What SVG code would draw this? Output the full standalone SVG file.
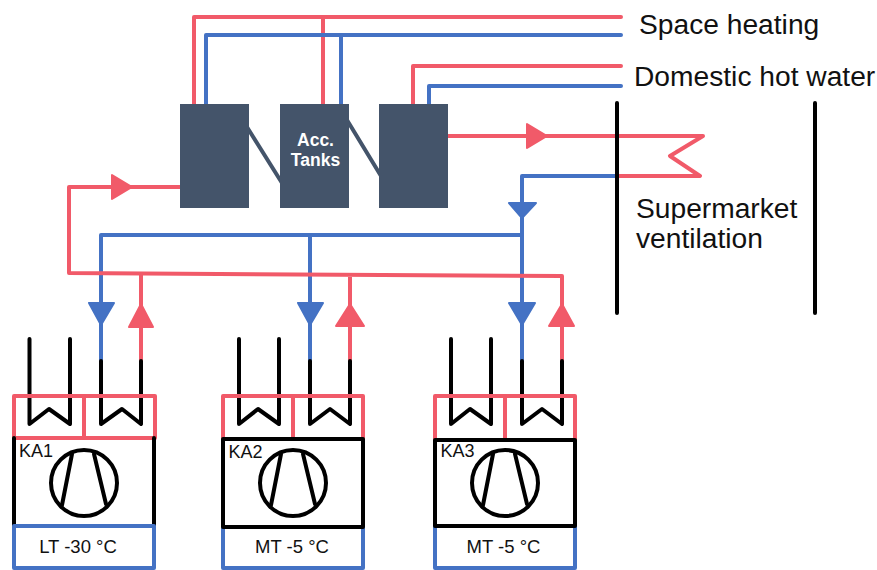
<svg xmlns="http://www.w3.org/2000/svg" width="877" height="570" viewBox="0 0 877 570">
<style>
text{font-family:"Liberation Sans",Arial,sans-serif;fill:#111}
.l{font-size:28.200px}
.s{font-size:18px}
.m{font-size:18.500px}
.r{fill:none;stroke:#f15a69;stroke-width:4;stroke-linejoin:round;stroke-linecap:round}
.b{fill:none;stroke:#4472c4;stroke-width:4;stroke-linejoin:round;stroke-linecap:round}
.k{fill:none;stroke:#000;stroke-width:4;stroke-linejoin:round;stroke-linecap:round}
.t{fill:#44546a}
.rf{fill:#f15a69;stroke:#f15a69;stroke-width:2;stroke-linejoin:round}
.bf{fill:#4472c4;stroke:#4472c4;stroke-width:2;stroke-linejoin:round}
</style>
<rect width="877" height="570" fill="#fff"/>
<g id="connectors">
<path class="r" d="M194 104V17H621M323 104V17"/>
<path class="b" d="M206 104V35H621M341 104V35"/>
<path class="r" d="M413 104V66H621"/>
<path class="b" d="M429 104V86H621"/>
<path class="r" d="M448 136H703L670 156L700 176H617"/>
<path class="b" d="M617 176H522V361M522 235H101V361M310 235V361"/>
<path class="r" d="M180 187H69V273L562 276V361M141 274V361M350 276V361"/>
<path d="M247 127L282 183M347 120L381 176" fill="none" stroke="#44546a" stroke-width="4"/>
<path class="k" d="M617 103V313M815 103V313"/>
<path class="rf" d="M527 124V148L547 136Z"/>
<path class="rf" d="M112 175V199L132 187Z"/>
<path class="bf" d="M509 203H536L522 218Z"/>
<path class="bf" d="M89 303H114L101 325Z"/>
<path class="bf" d="M298 303H323L310 325Z"/>
<path class="bf" d="M509 303H535L522 325Z"/>
<path class="rf" d="M129 327H153L141 304Z"/>
<path class="rf" d="M336 326H364L350 304Z"/>
<path class="rf" d="M549 326H574L562 304Z"/>
</g>
<g id="tank1"><rect class="t" x="180" y="104" width="69" height="104"/></g>
<g id="tank2"><rect class="t" x="280" y="104" width="69" height="104"/>
<text x="315.500" y="146" text-anchor="middle" font-size="17.500" font-weight="700" style="fill:#fff">Acc.</text>
<text x="315.500" y="166" text-anchor="middle" font-size="17.500" font-weight="700" style="fill:#fff">Tanks</text></g>
<g id="tank3"><rect class="t" x="379" y="104" width="69" height="104"/></g>
<g id="ka1">
<path class="k" d="M29.500 339V424L49 409L70 424V339M101 361V424L122 409L141 424V361"/>
<path class="r" d="M14 396H155V438H14ZM84 396V438"/>
<path class="k" d="M14 438V526M154 438V526"/>
<circle class="k" cx="84" cy="483" r="33"/>
<path class="k" d="M72 454L62 505M94 454L106 504"/>
<rect class="b" x="14" y="526" width="140" height="42"/>
<text class="s" x="19" y="457">KA1</text>
<text class="m" x="78" y="553" text-anchor="middle">LT -30 °C</text>
</g>
<g id="ka2">
<path class="k" d="M239 339V424L258 409L279 424V339M310 361V424L330 409L350 424V361"/>
<path class="r" d="M223 396H363V439H223ZM293 396V439"/>
<rect class="b" x="223" y="527" width="140" height="41"/>
<rect class="k" x="223" y="439" width="140" height="88" stroke-linejoin="miter"/>
<circle class="k" cx="293" cy="483" r="33"/>
<path class="k" d="M281 454L271 505M303 454L315 504"/>
<text class="s" x="228.500" y="458">KA2</text>
<text class="m" x="292" y="553" text-anchor="middle">MT -5 °C</text>
</g>
<g id="ka3">
<path class="k" d="M451 339V424L470 409L491 424V339M522 361V424L542 409L562 424V361"/>
<path class="r" d="M435 396H575V440H435ZM505 396V440"/>
<rect class="b" x="435" y="526" width="140" height="42"/>
<rect class="k" x="435" y="440" width="140" height="86"/>
<circle class="k" cx="505" cy="483" r="33"/>
<path class="k" d="M493 454L483 505M515 454L527 504"/>
<text class="s" x="440.500" y="457">KA3</text>
<text class="m" x="503.500" y="553" text-anchor="middle">MT -5 °C</text>
</g>
<g id="labels">
<text class="l" x="639" y="34">Space heating</text>
<text class="l" x="634" y="86">Domestic hot water</text>
<text class="l" x="636" y="218">Supermarket</text>
<text class="l" x="636" y="248">ventilation</text>
</g>
</svg>
